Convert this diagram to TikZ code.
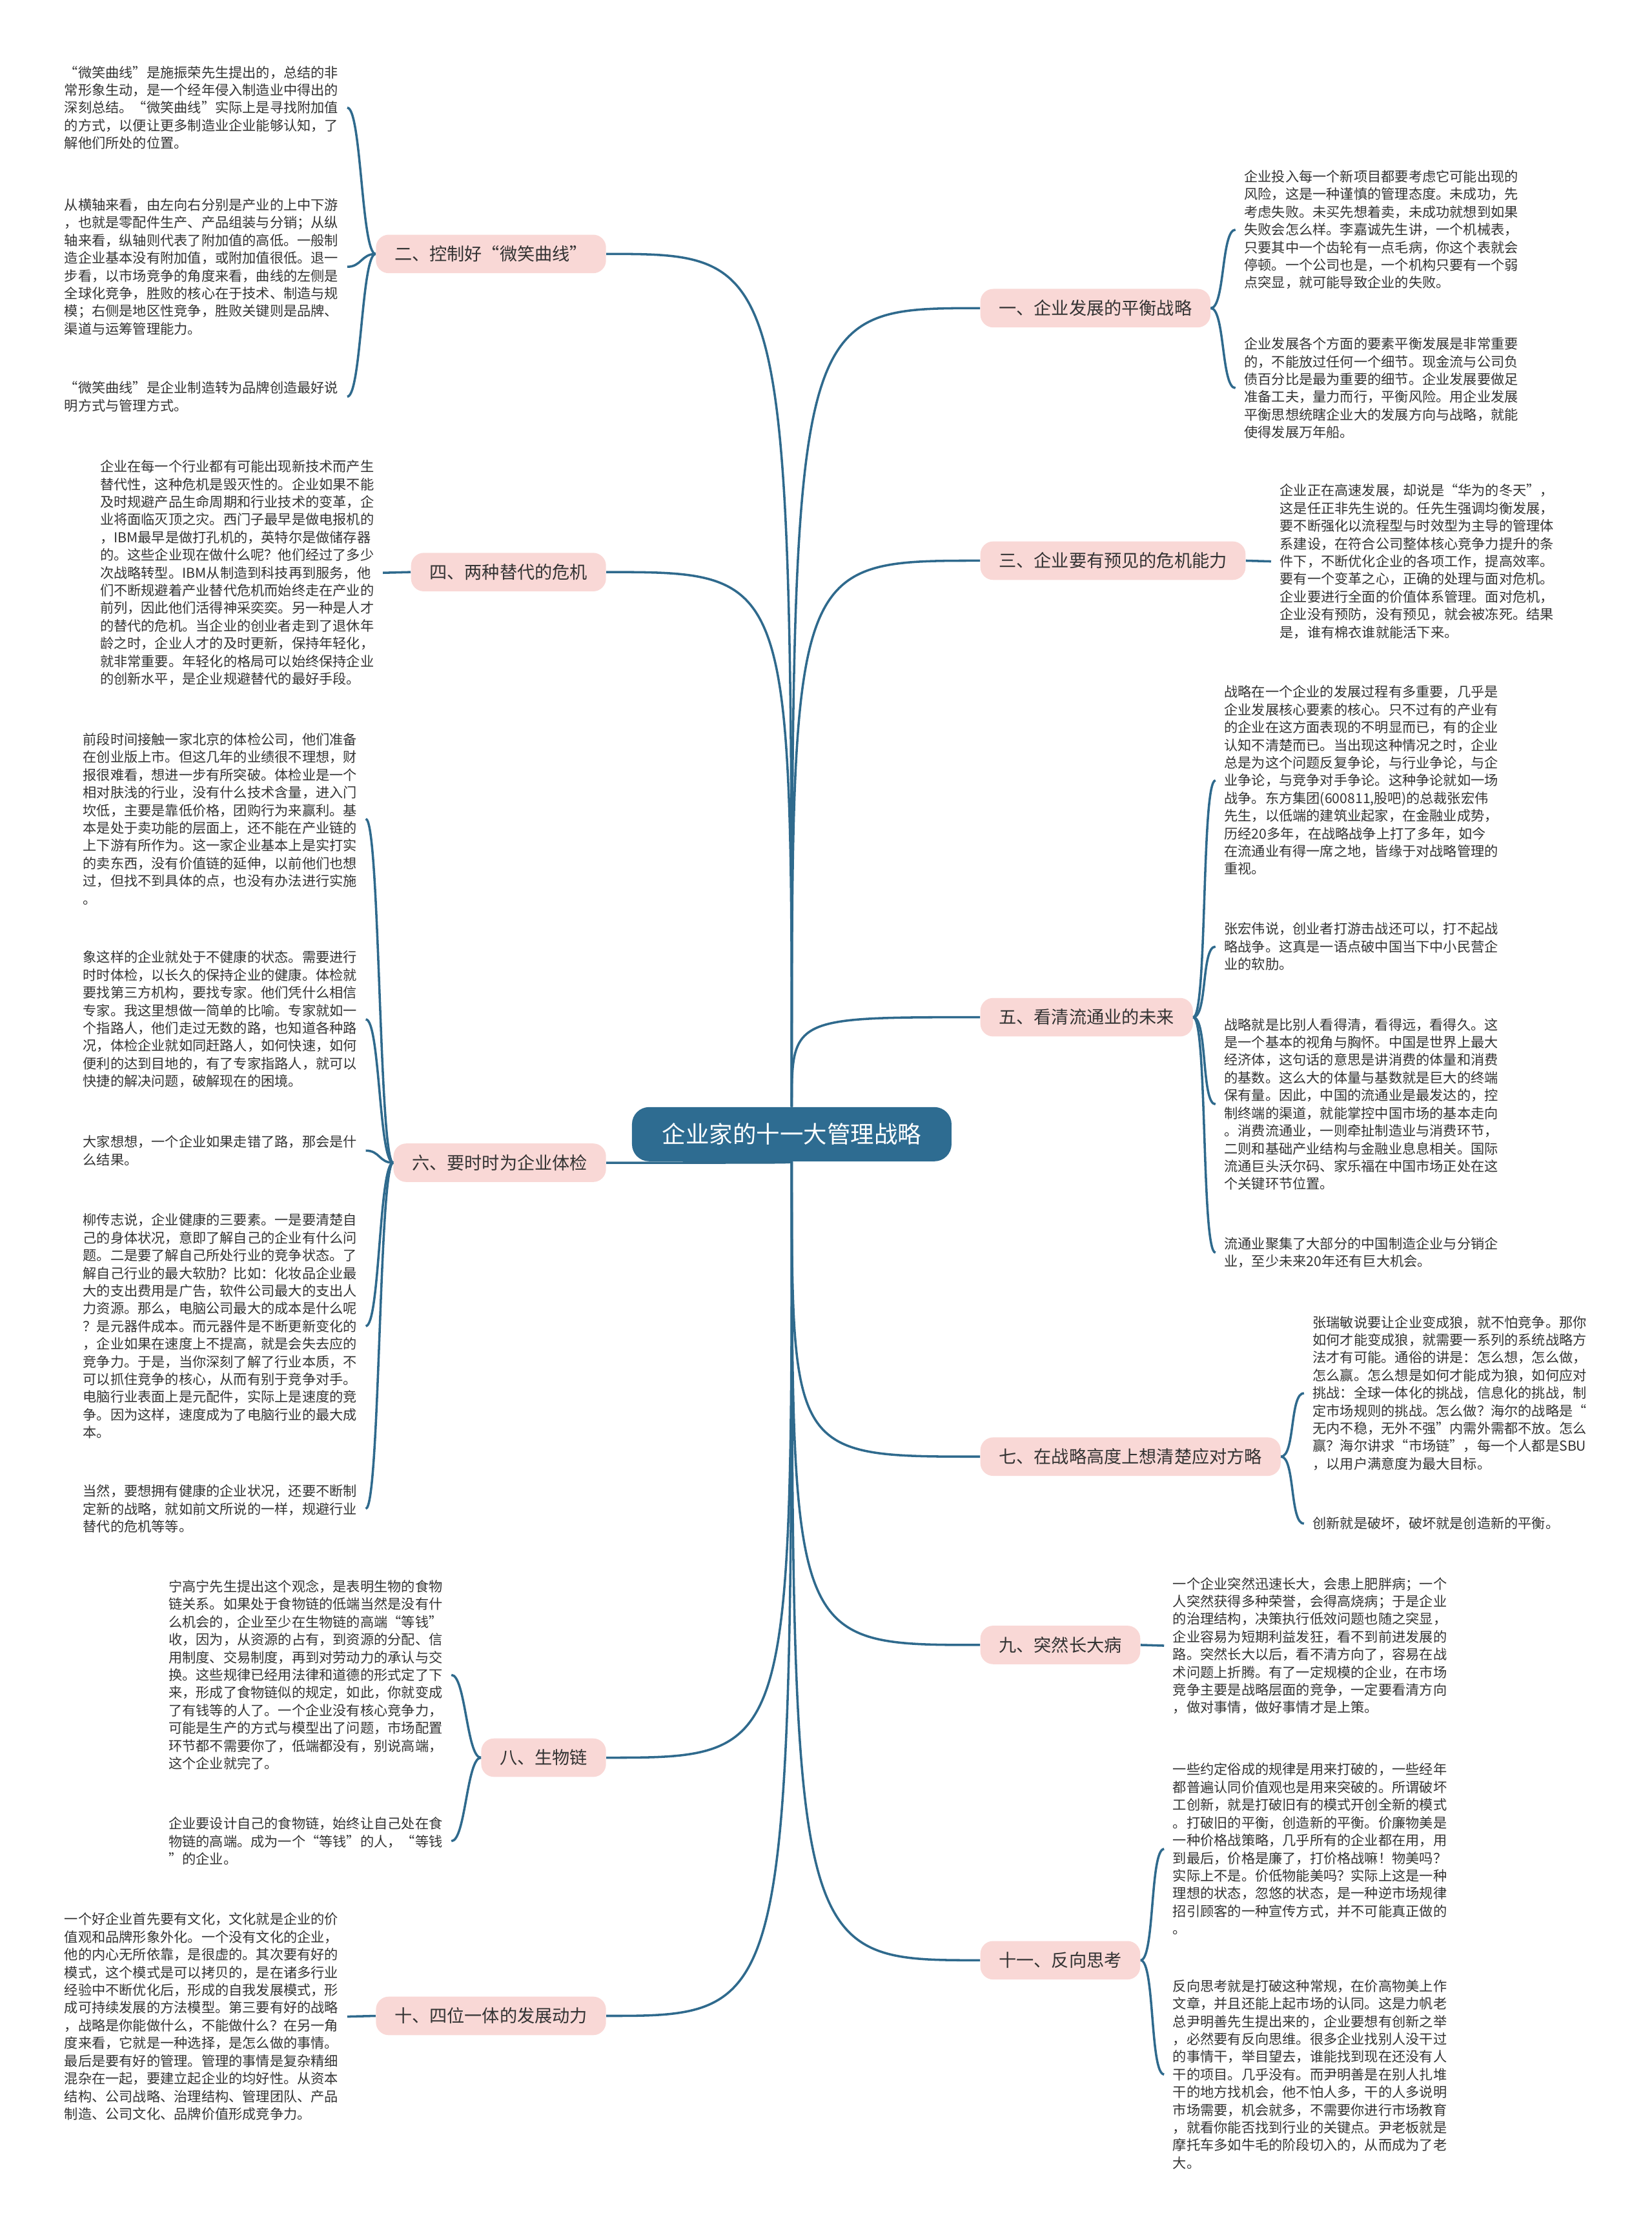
\documentclass[tikz,border=0pt]{standalone}
\usepackage{fontspec}
\setmainfont{Noto Sans CJK SC}
\definecolor{mmRoot}{RGB}{46,108,145}
\definecolor{mmLink}{RGB}{47,106,141}
\definecolor{mmBranch}{RGB}{249,216,214}
\definecolor{mmText}{RGB}{51,51,51}
\usetikzlibrary{positioning}

\begin{document}
\begin{tikzpicture}[x=1pt, y=-1pt,
    root/.style={fill=mmRoot, text=white, rounded corners=12pt, minimum width=224pt, minimum height=38pt, font=\fontsize{16.5}{18}\selectfont},
    branch/.style={fill=mmBranch, text=mmText, rounded corners=9pt, minimum height=27pt, inner xsep=13pt, font=\fontsize{12.3}{14}\selectfont},
    leaf/.style={align=left, text=mmText, inner xsep=6pt, inner ysep=0pt, font=\fontsize{9.6}{12.4}\selectfont},
    link/.style={draw=mmLink, line width=1.6pt}]
    \useasboundingbox (0,0) rectangle (1158,1568);

    \node[root] (root) at (555,795) {企业家的十一大管理战略};

    % right branches
    \node[branch, anchor=west] (b1) at (687,216) {一、企业发展的平衡战略};
    \node[branch, anchor=west] (b3) at (687,393) {三、企业要有预见的危机能力};
    \node[branch, anchor=west] (b5) at (687,713) {五、看清流通业的未来};
    \node[branch, anchor=west] (b7) at (687,1021) {七、在战略高度上想清楚应对方略};
    \node[branch, anchor=west] (b9) at (687,1153) {九、突然长大病};
    \node[branch, anchor=west] (b11) at (687,1374) {十一、反向思考};

    % left branches
    \node[branch, anchor=east] (b2) at (425,178) {二、控制好“微笑曲线”};
    \node[branch, anchor=east] (b4) at (425,401) {四、两种替代的危机};
    \node[branch, anchor=east] (b6) at (425,815) {六、要时时为企业体检};
    \node[branch, anchor=east] (b8) at (425,1232) {八、生物链};
    \node[branch, anchor=east] (b10) at (425,1413) {十、四位一体的发展动力};

    \foreach \b in {b1,b3,b5}
        \draw[link] (root.north) .. controls (root.north |- \b.west) .. (\b.west);
    \foreach \b in {b7,b9,b11}
        \draw[link] (root.south) .. controls (root.south |- \b.west) .. (\b.west);
    \foreach \b in {b2,b4}
        \draw[link] (root.north) .. controls (root.north |- \b.east) .. (\b.east);
    \foreach \b in {b6,b8,b10}
        \draw[link] (root.south) .. controls (root.south |- \b.east) .. (\b.east);

    % leaves, right side
    \node[leaf, anchor=west] (l1a) at (866,161) {企业投入每一个新项目都要考虑它可能出现的\\风险，这是一种谨慎的管理态度。未成功，先\\考虑失败。未买先想着卖，未成功就想到如果\\失败会怎么样。李嘉诚先生讲，一个机械表，\\只要其中一个齿轮有一点毛病，你这个表就会\\停顿。一个公司也是，一个机构只要有一个弱\\点突显，就可能导致企业的失败。};
    \node[leaf, anchor=west] (l1b) at (866,272) {企业发展各个方面的要素平衡发展是非常重要\\的，不能放过任何一个细节。现金流与公司负\\债百分比是最为重要的细节。企业发展要做足\\准备工夫，量力而行，平衡风险。用企业发展\\平衡思想统瞎企业大的发展方向与战略，就能\\使得发展万年船。};
    \node[leaf, anchor=west] (l3a) at (891,393.5) {企业正在高速发展，却说是“华为的冬天”，\\这是任正非先生说的。任先生强调均衡发展，\\要不断强化以流程型与时效型为主导的管理体\\系建设，在符合公司整体核心竞争力提升的条\\件下，不断优化企业的各项工作，提高效率。\\要有一个变革之心，正确的处理与面对危机。\\企业要进行全面的价值体系管理。面对危机，\\企业没有预防，没有预见，就会被冻死。结果\\是，谁有棉衣谁就能活下来。};
    \node[leaf, anchor=west] (l5a) at (852,547) {战略在一个企业的发展过程有多重要，几乎是\\企业发展核心要素的核心。只不过有的产业有\\的企业在这方面表现的不明显而已，有的企业\\认知不清楚而已。当出现这种情况之时，企业\\总是为这个问题反复争论，与行业争论，与企\\业争论，与竞争对手争论。这种争论就如一场\\战争。东方集团(600811,股吧)的总裁张宏伟\\先生，以低端的建筑业起家，在金融业成势，\\历经20多年，在战略战争上打了多年，如今\\在流通业有得一席之地，皆缘于对战略管理的\\重视。};
    \node[leaf, anchor=west] (l5b) at (852,663.5) {张宏伟说，创业者打游击战还可以，打不起战\\略战争。这真是一语点破中国当下中小民营企\\业的软肋。};
    \node[leaf, anchor=west] (l5c) at (852,774) {战略就是比别人看得清，看得远，看得久。这\\是一个基本的视角与胸怀。中国是世界上最大\\经济体，这句话的意思是讲消费的体量和消费\\的基数。这么大的体量与基数就是巨大的终端\\保有量。因此，中国的流通业是最发达的，控\\制终端的渠道，就能掌控中国市场的基本走向\\。消费流通业，一则牵扯制造业与消费环节，\\二则和基础产业结构与金融业息息相关。国际\\流通巨头沃尔码、家乐福在中国市场正处在这\\个关键环节位置。};
    \node[leaf, anchor=west] (l5d) at (852,878) {流通业聚集了大部分的中国制造企业与分销企\\业，至少未来20年还有巨大机会。};
    \node[leaf, anchor=west] (l7a) at (914,976.5) {张瑞敏说要让企业变成狼，就不怕竞争。那你\\如何才能变成狼，就需要一系列的系统战略方\\法才有可能。通俗的讲是：怎么想，怎么做，\\怎么赢。怎么想是如何才能成为狼，如何应对\\挑战：全球一体化的挑战，信息化的挑战，制\\定市场规则的挑战。怎么做？海尔的战略是“\\无内不稳，无外不强”内需外需都不放。怎么\\赢？海尔讲求“市场链”，每一个人都是SBU\\，以用户满意度为最大目标。};
    \node[leaf, anchor=west] (l7b) at (914,1068) {创新就是破坏，破坏就是创造新的平衡。};
    \node[leaf, anchor=west] (l9a) at (816,1153.5) {一个企业突然迅速长大，会患上肥胖病；一个\\人突然获得多种荣誉，会得高烧病；于是企业\\的治理结构，决策执行低效问题也随之突显，\\企业容易为短期利益发狂，看不到前进发展的\\路。突然长大以后，看不清方向了，容易在战\\术问题上折腾。有了一定规模的企业，在市场\\竞争主要是战略层面的竞争，一定要看清方向\\，做对事情，做好事情才是上策。};
    \node[leaf, anchor=west] (l11a) at (816,1296) {一些约定俗成的规律是用来打破的，一些经年\\都普遍认同价值观也是用来突破的。所谓破坏\\工创新，就是打破旧有的模式开创全新的模式\\。打破旧的平衡，创造新的平衡。价廉物美是\\一种价格战策略，几乎所有的企业都在用，用\\到最后，价格是廉了，打价格战嘛！物美吗？\\实际上不是。价低物能美吗？实际上这是一种\\理想的状态，忽悠的状态，是一种逆市场规律\\招引顾客的一种宣传方式，并不可能真正做的\\。};
    \node[leaf, anchor=west] (l11b) at (816,1454) {反向思考就是打破这种常规，在价高物美上作\\文章，并且还能上起市场的认同。这是力帆老\\总尹明善先生提出来的，企业要想有创新之举\\，必然要有反向思维。很多企业找别人没干过\\的事情干，举目望去，谁能找到现在还没有人\\干的项目。几乎没有。而尹明善是在别人扎堆\\干的地方找机会，他不怕人多，干的人多说明\\市场需要，机会就多，不需要你进行市场教育\\，就看你能否找到行业的关键点。尹老板就是\\摩托车多如牛毛的阶段切入的，从而成为了老\\大。};

    % leaves, left side
    \node[leaf, anchor=west] (l2a) at (39,75.5) {“微笑曲线”是施振荣先生提出的，总结的非\\常形象生动，是一个经年侵入制造业中得出的\\深刻总结。“微笑曲线”实际上是寻找附加值\\的方式，以便让更多制造业企业能够认知，了\\解他们所处的位置。};
    \node[leaf, anchor=west] (l2b) at (39,187) {从横轴来看，由左向右分别是产业的上中下游\\，也就是零配件生产、产品组装与分销；从纵\\轴来看，纵轴则代表了附加值的高低。一般制\\造企业基本没有附加值，或附加值很低。退一\\步看，以市场竞争的角度来看，曲线的左侧是\\全球化竞争，胜败的核心在于技术、制造与规\\模；右侧是地区性竞争，胜败关键则是品牌、\\渠道与运筹管理能力。};
    \node[leaf, anchor=west] (l2c) at (39,278) {“微笑曲线”是企业制造转为品牌创造最好说\\明方式与管理方式。};
    \node[leaf, anchor=west] (l4a) at (64,401.5) {企业在每一个行业都有可能出现新技术而产生\\替代性，这种危机是毁灭性的。企业如果不能\\及时规避产品生命周期和行业技术的变革，企\\业将面临灭顶之灾。西门子最早是做电报机的\\，IBM最早是做打孔机的，英特尔是做储存器\\的。这些企业现在做什么呢？他们经过了多少\\次战略转型。IBM从制造到科技再到服务，他\\们不断规避着产业替代危机而始终走在产业的\\前列，因此他们活得神采奕奕。另一种是人才\\的替代的危机。当企业的创业者走到了退休年\\龄之时，企业人才的及时更新，保持年轻化，\\就非常重要。年轻化的格局可以始终保持企业\\的创新水平，是企业规避替代的最好手段。};
    \node[leaf, anchor=west] (l6a) at (52,574) {前段时间接触一家北京的体检公司，他们准备\\在创业版上市。但这几年的业绩很不理想，财\\报很难看，想进一步有所突破。体检业是一个\\相对肤浅的行业，没有什么技术含量，进入门\\坎低，主要是靠低价格，团购行为来赢利。基\\本是处于卖功能的层面上，还不能在产业链的\\上下游有所作为。这一家企业基本上是实打实\\的卖东西，没有价值链的延伸，以前他们也想\\过，但找不到具体的点，也没有办法进行实施\\。};
    \node[leaf, anchor=west] (l6b) at (52,714.5) {象这样的企业就处于不健康的状态。需要进行\\时时体检，以长久的保持企业的健康。体检就\\要找第三方机构，要找专家。他们凭什么相信\\专家。我这里想做一简单的比喻。专家就如一\\个指路人，他们走过无数的路，也知道各种路\\况，体检企业就如同赶路人，如何快速，如何\\便利的达到目地的，有了专家指路人，就可以\\快捷的解决问题，破解现在的困境。};
    \node[leaf, anchor=west] (l6c) at (52,806.5) {大家想想，一个企业如果走错了路，那会是什\\么结果。};
    \node[leaf, anchor=west] (l6d) at (52,929.5) {柳传志说，企业健康的三要素。一是要清楚自\\己的身体状况，意即了解自己的企业有什么问\\题。二是要了解自己所处行业的竞争状态。了\\解自己行业的最大软肋？比如：化妆品企业最\\大的支出费用是广告，软件公司最大的支出人\\力资源。那么，电脑公司最大的成本是什么呢\\？是元器件成本。而元器件是不断更新变化的\\，企业如果在速度上不提高，就是会失去应的\\竞争力。于是，当你深刻了解了行业本质，不\\可以抓住竞争的核心，从而有别于竞争对手。\\电脑行业表面上是元配件，实际上是速度的竞\\争。因为这样，速度成为了电脑行业的最大成\\本。};
    \node[leaf, anchor=west] (l6e) at (52,1057.5) {当然，要想拥有健康的企业状况，还要不断制\\定新的战略，就如前文所说的一样，规避行业\\替代的危机等等。};
    \node[leaf, anchor=west] (l8a) at (112,1174) {宁高宁先生提出这个观念，是表明生物的食物\\链关系。如果处于食物链的低端当然是没有什\\么机会的，企业至少在生物链的高端“等钱”\\收，因为，从资源的占有，到资源的分配、信\\用制度、交易制度，再到对劳动力的承认与交\\换。这些规律已经用法律和道德的形式定了下\\来，形成了食物链似的规定，如此，你就变成\\了有钱等的人了。一个企业没有核心竞争力，\\可能是生产的方式与模型出了问题，市场配置\\环节都不需要你了，低端都没有，别说高端，\\这个企业就完了。};
    \node[leaf, anchor=west] (l8b) at (112,1290.5) {企业要设计自己的食物链，始终让自己处在食\\物链的高端。成为一个“等钱”的人，“等钱\\”的企业。};
    \node[leaf, anchor=west] (l10a) at (39,1413.5) {一个好企业首先要有文化，文化就是企业的价\\值观和品牌形象外化。一个没有文化的企业，\\他的内心无所依靠，是很虚的。其次要有好的\\模式，这个模式是可以拷贝的，是在诸多行业\\经验中不断优化后，形成的自我发展模式，形\\成可持续发展的方法模型。第三要有好的战略\\，战略是你能做什么，不能做什么？在另一角\\度来看，它就是一种选择，是怎么做的事情。\\最后是要有好的管理。管理的事情是复杂精细\\混杂在一起，要建立起企业的均好性。从资本\\结构、公司战略、治理结构、管理团队、产品\\制造、公司文化、品牌价值形成竞争力。};

    % branch to leaf
    \foreach \b/\l in {b1/l1a, b1/l1b, b5/l5a, b5/l5b, b5/l5c, b5/l5d, b7/l7a, b7/l7b, b11/l11a, b11/l11b}
        \draw[link] (\b.east) .. controls +(10,0) and +(-10,0) .. (\l.west);
    \foreach \b/\l in {b2/l2a, b2/l2b, b2/l2c, b6/l6a, b6/l6b, b6/l6c, b6/l6d, b6/l6e, b8/l8a, b8/l8b}
        \draw[link] (\b.west) .. controls +(-10,0) and +(10,0) .. (\l.east);
    \draw[link] (b3.east) -- (l3a.west);
    \draw[link] (b9.east) -- (l9a.west);
    \draw[link] (b4.west) -- (l4a.east);
    \draw[link] (b10.west) -- (l10a.east);
\end{tikzpicture}
\end{document}
